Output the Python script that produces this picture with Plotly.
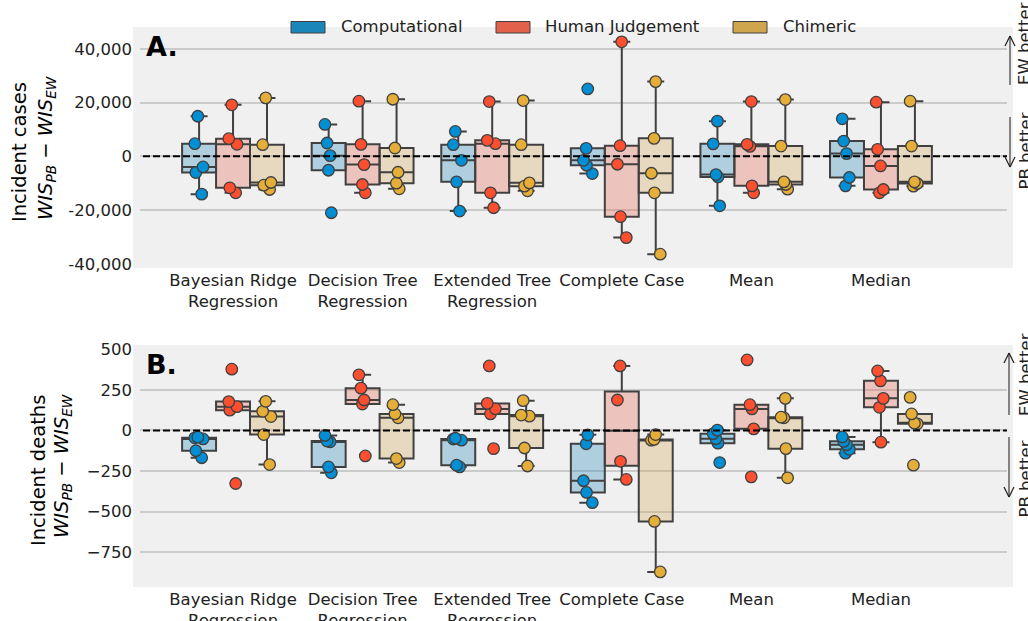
import numpy as np
import plotly.graph_objects as go

# ---------------- data ----------------
categories = ["Bayesian Ridge<br>Regression", "Decision Tree<br>Regression",
              "Extended Tree<br>Regression", "Complete Case", "Mean", "Median"]
series_names = ["Computational", "Human Judgement", "Chimeric"]

# Panel A: incident cases, WIS_PB - WIS_EW (one list of values per category)
cases_computational = [
    [14900, 4700, -3950, -6050, -14070],
    [11850, 4940, 250, -5190, -21000],
    [9260, 4330, -1480, -9510, -20370],
    [25070, 2960, -1480, -3330, -6420],
    [13080, 4630, -6780, -7670, -18410],
    [13960, 5670, 1000, -7890, -11000],
]
cases_human = [
    [19150, 6550, 4450, -11730, -13580],
    [20490, 4440, -3090, -10490, -13580],
    [20370, 5930, 4700, -13580, -19140],
    [42600, 3960, -2960, -22470, -30250],
    [20370, 4440, 3700, -11000, -13580],
    [20120, 2590, -3590, -12350, -13580],
]
cases_chimeric = [
    [21730, 4330, -9750, -10740, -12350],
    [21230, 3080, -5930, -10000, -12100],
    [20740, 4330, -9880, -11110, -12840],
    [27780, 6670, -6300, -13580, -36400],
    [21110, 3820, -9510, -10490, -12220],
    [20490, 3820, -9510, -10120, -11110],
]

# Panel B: incident deaths
deaths_computational = [
    [-41, -45, -52, -125, -168],
    [-31, -65, -70, -225, -261],
    [-48, -53, -60, -214, -225],
    [-27, -82, -310, -382, -445],
    [2, -20, -51, -78, -198],
    [-40, -67, -88, -116, -140],
]
deaths_human = [
    [378, 178, 147, 125, -327],
    [343, 261, 188, 163, -157],
    [398, 167, 133, 102, -112],
    [398, 188, -190, -302],
    [435, 159, 133, 10, -286],
    [367, 306, 198, 143, -72],
]
deaths_chimeric = [
    [180, 118, 86, -25, -210],
    [159, 102, 78, -173, -198],
    [184, 95, 88, -108, -219],
    [-25, -55, -60, -561, -872],
    [198, 82, 78, -112, -292],
    [204, 102, 45, 41, -214],
]

cases_ticks = [-40000, -20000, 0, 20000, 40000]
cases_ticktext = ["-40,000", "-20,000", "0", "20,000", "40,000"]
deaths_ticks = [-750, -500, -250, 0, 250, 500]
deaths_ticktext = ["\u2212750", "\u2212500", "\u2212250", "0", "250", "500"]

# ---------------- style ----------------
W, H = 1028, 621
FONT = "DejaVu Sans"
BG = "#f0f0f0"
EDGE = "#404040"
point_colors = ["#008fd5", "#fc4f30", "#e5ae38"]
patch_colors = ["#1b86ba", "#e3614a", "#cfa64e"]
fill_colors = ["rgba(27,134,186,0.3)", "rgba(227,97,74,0.3)", "rgba(207,166,78,0.3)"]
BW = 0.262                      # box width (category units)
offsets = [-BW, 0.0, BW]


def px(x):
    return x / W


def py(y):
    return 1 - y / H


def box_stats(vals):
    a = np.sort(np.asarray(vals, dtype=float))
    q1, med, q3 = np.percentile(a, [25, 50, 75])
    iqr = q3 - q1
    lo = a[a >= q1 - 1.5 * iqr].min()
    hi = a[a <= q3 + 1.5 * iqr].max()
    return q1, med, q3, lo, hi


fig = go.Figure()

panels = [
    ("x", "y", [cases_computational, cases_human, cases_chimeric]),
    ("x2", "y2", [deaths_computational, deaths_human, deaths_chimeric]),
]

for xa, ya, data in panels:
    # boxes
    for s, groups in enumerate(data):
        pos = [i + offsets[s] for i in range(len(groups))]
        st = [box_stats(g) for g in groups]
        fig.add_trace(go.Box(
            x=pos, q1=[t[0] for t in st], median=[t[1] for t in st],
            q3=[t[2] for t in st], lowerfence=[t[3] for t in st],
            upperfence=[t[4] for t in st], orientation="v",
            width=BW, whiskerwidth=0.5, boxpoints=False,
            fillcolor=fill_colors[s], line=dict(color=EDGE, width=2),
            xaxis=xa, yaxis=ya, showlegend=False, hoverinfo="skip"))
    # points
    for s, groups in enumerate(data):
        xs, ys = [], []
        for i, g in enumerate(groups):
            xs += [i + offsets[s]] * len(g)
            ys += list(g)
        fig.add_trace(go.Box(
            x=xs, y=ys, boxpoints="all", jitter=0.3, pointpos=0,
            width=BW, fillcolor="rgba(0,0,0,0)",
            line=dict(color="rgba(0,0,0,0)", width=0),
            marker=dict(color=point_colors[s], size=11.5,
                        line=dict(color=EDGE, width=1.3)),
            xaxis=xa, yaxis=ya, showlegend=False, hoverinfo="skip"))

# axes geometry (pixels of background patch)
xl, xr = 133, 1013
A_top, A_bot = 27, 268
B_top, B_bot = 345, 587

xaxis_common = dict(range=[-0.772, 6.019], tickvals=list(range(len(categories))),
                    ticktext=categories, showgrid=False, zeroline=False, automargin=False,
                    showline=False, ticks="", tickfont=dict(family=FONT, size=16.5, color="#222"))
yaxis_common = dict(showgrid=True, gridcolor="#cbcbcb", gridwidth=2, zeroline=False,
                    automargin=False, showline=False, ticks="",
                    tickfont=dict(family=FONT, size=16.5, color="#222"))

fig.update_layout(
    width=W, height=H, margin=dict(l=0, r=0, t=0, b=0, autoexpand=False),
    paper_bgcolor="white", plot_bgcolor=BG, boxmode="overlay", showlegend=False,
    font=dict(family=FONT, color="#222"),
    xaxis=dict(domain=[px(xl), px(xr)], anchor="y", **xaxis_common),
    yaxis=dict(domain=[py(A_bot), py(A_top)], anchor="x", range=[-41550, 48100],
               tickvals=cases_ticks, ticktext=cases_ticktext, **yaxis_common),
    xaxis2=dict(domain=[px(xl), px(xr)], anchor="y2", **xaxis_common),
    yaxis2=dict(domain=[py(B_bot), py(B_top)], anchor="x2", range=[-965, 527],
                tickvals=deaths_ticks, ticktext=deaths_ticktext, **yaxis_common),
)

shapes = []
# zero dashed lines
for xa, ya in [("x", "y"), ("x2", "y2")]:
    shapes.append(dict(type="line", xref=f"{xa} domain", x0=0, x1=1, yref=ya, y0=0, y1=0,
                       line=dict(color="black", width=2, dash="7px,3px"), layer="above"))
# axes frame (covers grid near patch edge)
for top, bot in [(A_top, A_bot), (B_top, B_bot)]:
    for (x0, x1, y0, y1) in [(xl, xl + 7, top, bot), (xr - 6, xr, top, bot),
                             (xl, xr, top, top + 6), (xl, xr, bot - 6, bot)]:
        shapes.append(dict(type="rect", xref="paper", yref="paper",
                           x0=px(x0), x1=px(x1), y0=py(y1), y1=py(y0),
                           fillcolor=BG, line=dict(width=0), layer="above"))


def arrow(x, y_from, y_to):
    d = 10 if y_to > y_from else -10
    res = [dict(type="line", xref="paper", yref="paper", x0=px(x), x1=px(x),
                y0=py(y_from), y1=py(y_to), line=dict(color="#555", width=1.4), layer="above")]
    for dx in (-5, 5):
        res.append(dict(type="line", xref="paper", yref="paper", x0=px(x), x1=px(x + dx),
                        y0=py(y_to), y1=py(y_to - d), line=dict(color="#222", width=1.2),
                        layer="above"))
    return res


shapes += arrow(1010, 85, 36) + arrow(1010, 117, 167)
shapes += arrow(1009, 415, 353) + arrow(1009, 437, 497)

# legend patches
legend_rect_x = [291, 496, 733]
legend_text_x = [339, 543, 781]
for s in range(3):
    shapes.append(dict(type="rect", xref="paper", yref="paper",
                       x0=px(legend_rect_x[s]), x1=px(legend_rect_x[s] + 34),
                       y0=py(33), y1=py(21.5), fillcolor=patch_colors[s],
                       line=dict(color=EDGE, width=1), layer="above"))
fig.update_layout(shapes=shapes)

ann = []
for s in range(3):
    ann.append(dict(xref="paper", yref="paper", x=px(legend_text_x[s]), y=py(27),
                    xanchor="left", yanchor="middle", showarrow=False, text=series_names[s],
                    font=dict(family=FONT, size=16.5, color="#222")))
# panel letters
ann.append(dict(xref="paper", yref="paper", x=px(144), y=py(46), xanchor="left", yanchor="middle",
                showarrow=False, text="<b>A.</b>", font=dict(family=FONT, size=27, color="black")))
ann.append(dict(xref="paper", yref="paper", x=px(144), y=py(364), xanchor="left", yanchor="middle",
                showarrow=False, text="<b>B.</b>", font=dict(family=FONT, size=27, color="black")))
# y titles
wis = "<i>WIS</i><sub><i>PB</i></sub> \u2212 <i>WIS</i><sub><i>EW</i></sub>"
for txt, x, y in [("Incident cases", 20, 152), (wis, 47, 148),
                  ("Incident deaths", 38, 471), (wis, 62, 466)]:
    ann.append(dict(xref="paper", yref="paper", x=px(x), y=py(y), xanchor="center",
                    yanchor="middle", showarrow=False, text=txt, textangle=-90,
                    font=dict(family=FONT, size=19.5, color="black")))
# right side labels
for txt, y in [("EW better", 44), ("PB better", 151.5), ("EW better", 375), ("PB better", 479.5)]:
    ann.append(dict(xref="paper", yref="paper", x=px(1025), y=py(y), xanchor="center",
                    yanchor="middle", showarrow=False, text=txt, textangle=-90,
                    font=dict(family=FONT, size=16.5, color="#222")))
fig.update_layout(annotations=ann)

fig.write_html("out.html")
